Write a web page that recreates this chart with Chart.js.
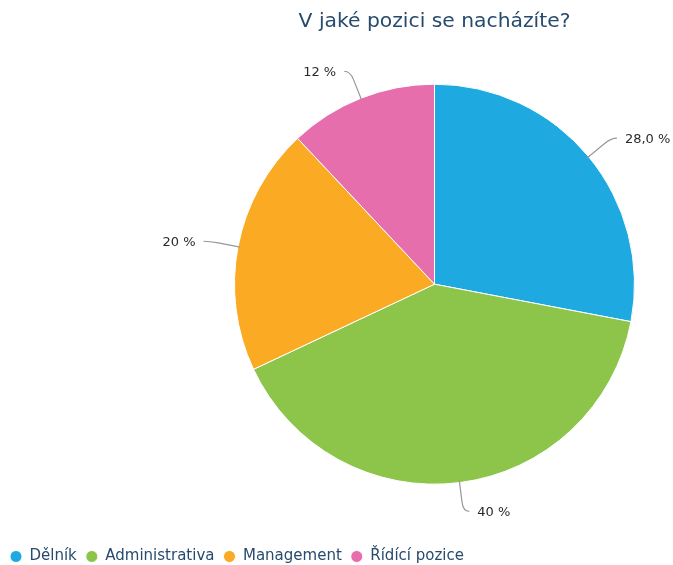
<!DOCTYPE html>
<html>
<head>
<meta charset="utf-8">
<script src="https://cdn.jsdelivr.net/npm/chart.js@4/dist/chart.umd.min.js"></script>
<style>
  html, body { margin: 0; padding: 0; background: #fff; }
  #wrap { width: 673px; height: 565px; }
</style>
</head>
<body>
<div id="wrap"><canvas id="poziceChart"></canvas></div>
<script>
const nazev = "V jaké pozici se nacházíte?";
const pozice = ["Dělník", "Administrativa", "Management", "Řídící pozice"];
const podil = [28, 40, 20, 12];
const popisky = ["28,0\u00a0%", "40\u00a0%", "20\u00a0%", "12\u00a0%"];
const barvy = ["#1ea9e1", "#8cc54a", "#fbaa24", "#e76eac"];

const FONT = "'DejaVu Sans', Verdana, sans-serif";

// legenda zůstává vlevo dole, koláč je posunutý doprava
const posunLegendy = {
  id: "posunLegendy",
  afterLayout(chart) {
    const lg = chart.legend;
    const w = lg.right - lg.left;
    lg.left = 1;
    lg.right = w + 1;
    lg.top += 9;
    lg.bottom += 9;
  }
};

// popisky hodnot se spojnicemi
const popiskySpojnice = {
  id: "popiskySpojnice",
  afterDatasetsDraw(chart) {
    const ctx = chart.ctx;
    const meta = chart.getDatasetMeta(0);
    ctx.save();
    ctx.font = "13px " + FONT;
    ctx.textBaseline = "middle";
    meta.data.forEach((arc, i) => {
      const p = arc.getProps(["x", "y", "startAngle", "endAngle", "outerRadius"], true);
      const a = (p.startAngle + p.endAngle) / 2;
      const cos = Math.cos(a), sin = Math.sin(a);
      const side = cos >= 0 ? 1 : -1;
      const r = p.outerRadius;
      const ex = p.x + (r - 2) * cos, ey = p.y + (r - 2) * sin;
      const mx = p.x + (r + 20) * cos, my = p.y + (r + 20) * sin;
      const cx = p.x + (r + 29) * cos, cy = p.y + (r + 29) * sin;
      const bx = cx + side * 6;
      ctx.strokeStyle = "#999";
      ctx.lineWidth = 1.2;
      ctx.beginPath();
      ctx.moveTo(ex, ey);
      ctx.lineTo(mx, my);
      ctx.quadraticCurveTo(cx, cy, bx, cy);
      ctx.stroke();
      ctx.fillStyle = "#2a2a2a";
      ctx.textAlign = side > 0 ? "left" : "right";
      ctx.fillText(popisky[i], bx + side * 8, cy + 1);
    });
    ctx.restore();
  }
};

new Chart(document.getElementById("poziceChart"), {
  type: "pie",
  data: {
    labels: pozice,
    datasets: [{
      data: podil,
      backgroundColor: barvy,
      borderColor: "#fff",
      borderWidth: 1,
      radius: 200,
      hoverOffset: 0
    }]
  },
  options: {
    responsive: true,
    maintainAspectRatio: false,
    animation: false,
    events: [],
    layout: { padding: { left: 196 } },
    plugins: {
      title: {
        display: true,
        text: nazev,
        color: "#274b6d",
        font: { family: FONT, size: 20.3, weight: "normal" },
        padding: { top: 10, bottom: 3 }
      },
      legend: {
        position: "bottom",
        align: "start",
        labels: {
          color: "#274b6d",
          font: { family: FONT, size: 15 },
          usePointStyle: true,
          pointStyle: "circle",
          boxWidth: 12,
          boxHeight: 8.5,
          padding: 9
        }
      },
      tooltip: { enabled: false }
    }
  },
  plugins: [posunLegendy, popiskySpojnice]
});
</script>
</body>
</html>
